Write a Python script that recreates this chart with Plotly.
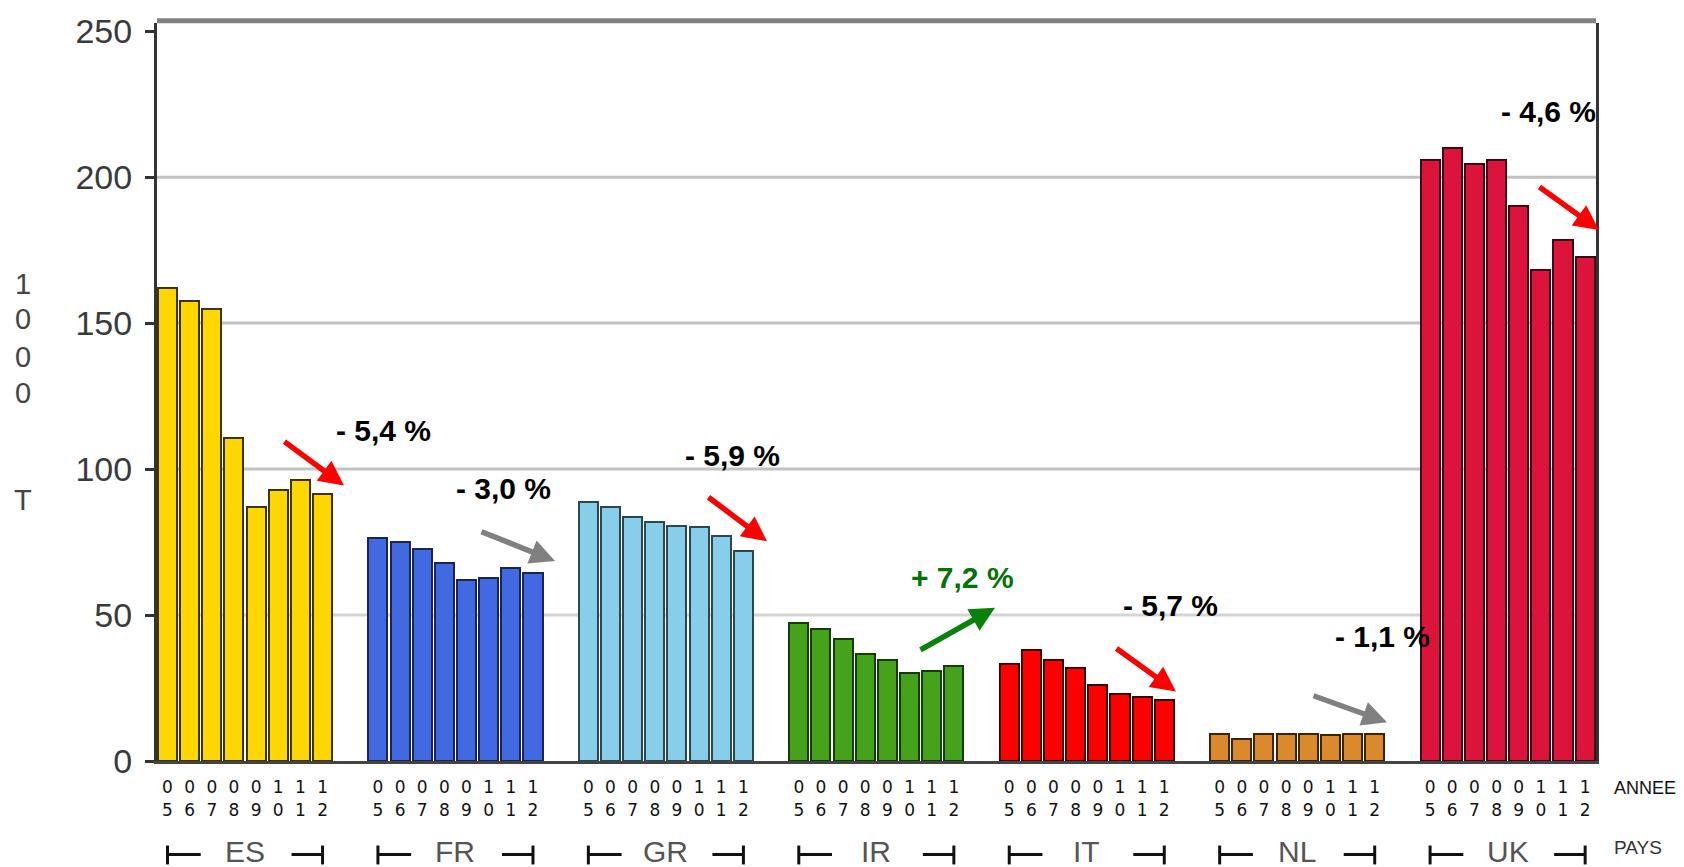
import plotly.graph_objects as go

# Countries, years and yearly tonnages (thousand tonnes)
countries = ["ES", "FR", "GR", "IR", "IT", "NL", "UK"]
years = ["05", "06", "07", "08", "09", "10", "11", "12"]

es = [162.0, 157.5, 155.0, 110.5, 87.0, 92.8, 96.2, 91.4]
fr = [76.4, 75.1, 72.5, 67.9, 62.1, 62.8, 66.0, 64.5]
gr = [88.8, 87.1, 83.6, 81.7, 80.5, 80.0, 77.1, 72.1]
ir = [47.2, 45.2, 41.8, 36.7, 34.5, 30.2, 30.9, 32.6]
it = [33.3, 38.0, 34.6, 32.0, 26.1, 23.1, 21.8, 21.0]
nl = [9.1, 7.7, 9.1, 9.1, 9.1, 9.0, 9.1, 9.1]
uk = [205.9, 210.0, 204.4, 205.9, 190.1, 168.1, 178.6, 172.5]

trend = ["- 5,4 %", "- 3,0 %", "- 5,9 %", "+ 7,2 %", "- 5,7 %", "- 1,1 %", "- 4,6 %"]

series = [es, fr, gr, ir, it, nl, uk]
fills = ["#FFD700", "#4169E1", "#87CEEB", "#44A31A", "#FF0000", "#DA8A2C", "#DC143C"]
edges = ["#3d3300", "#1c2550", "#2c4652", "#183a08", "#3a0000", "#3a2408", "#3a0612"]

W, H = 1684, 867
L, R, T, B = 157, 1596, 19, 761
GROUP_STEP = 9.5

def px(xp):
    return (xp - L) / (R - L)

def py(yp):
    return (B - yp) / (B - T)

fig = go.Figure()

tickvals, ticktext = [], []
for g, (name, vals) in enumerate(zip(countries, series)):
    xs = [g * GROUP_STEP + i for i in range(len(years))]
    fig.add_trace(go.Bar(
        x=xs, y=vals, width=0.86, name=name,
        marker=dict(color=fills[g], line=dict(color=edges[g], width=2)),
        showlegend=False,
        hovertemplate=name + " %{customdata}: %{y}<extra></extra>",
        customdata=["20" + y for y in years],
    ))
    tickvals += xs
    ticktext += [y[0] + "<br>" + y[1] for y in years]

shapes = []
# horizontal grid lines
for v, c in [(50, "#d4d4d4"), (100, "#c2c2c2"), (150, "#c2c2c2"), (200, "#c2c2c2")]:
    shapes.append(dict(type="line", xref="paper", yref="y", x0=0, x1=1, y0=v, y1=v,
                       line=dict(color=c, width=3), layer="below"))
# top frame
shapes.append(dict(type="line", xref="paper", yref="paper", x0=0, x1=1, y0=1.003, y1=1.003,
                   line=dict(color="#808080", width=5)))

annotations = []
# country brackets under each group
ybr = py(855)
for g, name in enumerate(countries):
    first = g * GROUP_STEP
    last = first + len(years) - 1
    shapes += [
        dict(type="line", xref="x", yref="paper", x0=first, x1=first, y0=py(846), y1=py(865),
             line=dict(color="#111", width=3)),
        dict(type="line", xref="x", yref="paper", x0=first, x1=first + 1.5, y0=ybr, y1=ybr,
             line=dict(color="#111", width=3)),
        dict(type="line", xref="x", yref="paper", x0=last, x1=last, y0=py(846), y1=py(865),
             line=dict(color="#111", width=3)),
        dict(type="line", xref="x", yref="paper", x0=last - 1.4, x1=last, y0=ybr, y1=ybr,
             line=dict(color="#111", width=3)),
    ]
    annotations.append(dict(x=(first + last) / 2, y=py(852), xref="x", yref="paper", text=name,
                            showarrow=False, font=dict(family="Liberation Sans", size=30, color="#555"),
                            xanchor="center", yanchor="middle"))

# axis captions at the right
annotations.append(dict(x=px(1612), y=py(788), xref="paper", yref="paper", text="ANNEE",
                        showarrow=False, xanchor="left", yanchor="middle",
                        font=dict(family="Liberation Sans", size=18, color="#111")))
annotations.append(dict(x=px(1612), y=py(848), xref="paper", yref="paper", text="PAYS",
                        showarrow=False, xanchor="left", yanchor="middle",
                        font=dict(family="Liberation Sans", size=19, color="#333")))

# vertical unit caption
for ch, yy in zip(["1", "0", "0", "0", "T"], [281, 317, 355, 391, 499]):
    annotations.append(dict(x=px(23), y=py(yy), xref="paper", yref="paper", text=ch,
                            showarrow=False, xanchor="center", yanchor="middle",
                            font=dict(family="Liberation Sans", size=29, color="#444")))

# trend labels and arrows
label_pos = [(383, 429), (503, 487), (732, 454), (962, 577), (1170, 605), (1382, 636), (1548, 108)]
arrows = [((283, 439), (344, 484)), ((480, 530), (555, 560)), ((707, 495), (767, 540)),
          ((919, 650), (995, 607)), ((1115, 647), (1176, 691)), ((1312, 695), (1387, 722)),
          ((1538, 183), (1599, 227))]
arrow_colors = ["#FF0000", "#808080", "#FF0000", "#0A820A", "#FF0000", "#808080", "#FF0000"]
for g, txt in enumerate(trend):
    lx, ly = label_pos[g]
    annotations.append(dict(x=px(lx), y=py(ly), xref="paper", yref="paper", text="<b>" + txt + "</b>",
                            showarrow=False, xanchor="center", yanchor="middle",
                            font=dict(family="Liberation Sans", size=30,
                                      color="#087008" if txt.startswith("+") else "#000")))
    (tx, ty), (hx, hy) = arrows[g]
    annotations.append(dict(x=px(hx), y=py(hy), xref="paper", yref="paper", text="",
                            showarrow=True, ax=tx - hx, ay=ty - hy, arrowhead=2, arrowsize=0.9,
                            arrowwidth=5.5, arrowcolor=arrow_colors[g], standoff=0))

fig.update_layout(
    width=W, height=H,
    margin=dict(l=L, r=W - R, t=T, b=H - B),
    paper_bgcolor="white", plot_bgcolor="white",
    bargap=0,
    shapes=shapes, annotations=annotations,
    xaxis=dict(range=[-0.474, 64.49], tickmode="array", tickvals=tickvals, ticktext=ticktext,
               showgrid=False, zeroline=False, showline=True, linecolor="#444", linewidth=3,
               ticks="", tickfont=dict(family="DejaVu Sans", size=17, color="#111"),
               ticklabelstandoff=9, tickangle=0, fixedrange=True),
    yaxis=dict(range=[0, 252.8], tickvals=[0, 50, 100, 150, 200, 250], showgrid=False,
               zeroline=False, showline=True, linecolor="#333", linewidth=3, mirror=True,
               ticks="outside", ticklen=9, tickwidth=3, tickcolor="#333",
               tickfont=dict(family="Liberation Sans", size=34, color="#3a3a3a"),
               ticklabelstandoff=6, fixedrange=True),
)

fig.write_html("out.html")
